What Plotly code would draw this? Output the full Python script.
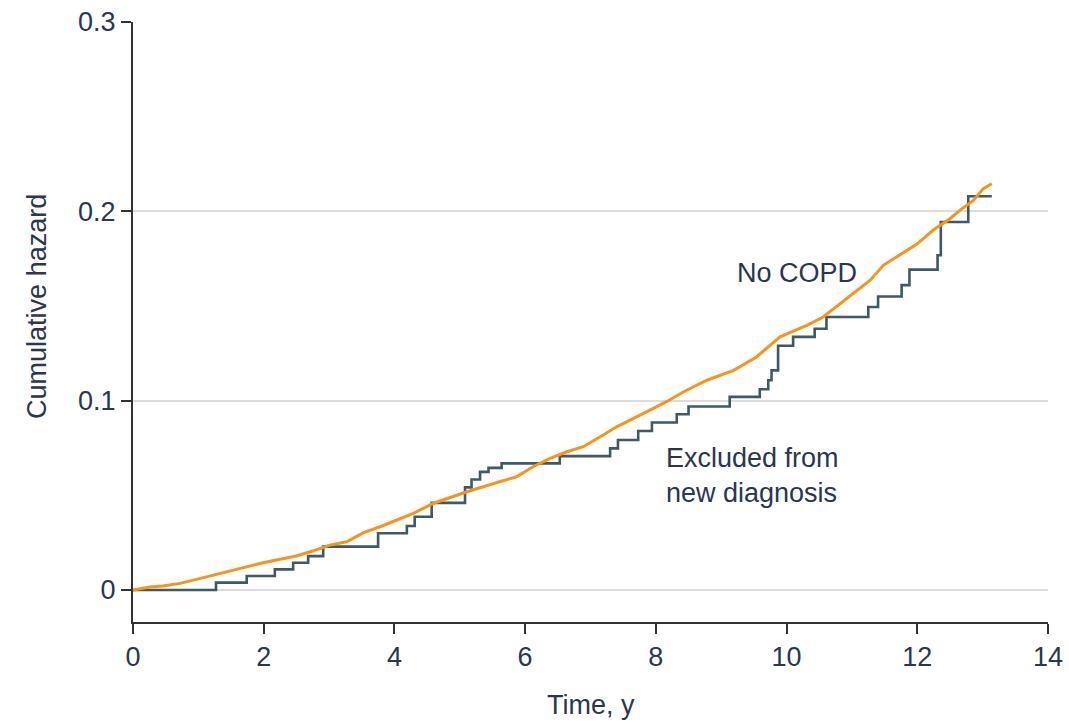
import plotly.graph_objects as go

# Step curve: "Excluded from new diagnosis"
excl_t = [0, 1.27, 1.74, 2.17, 2.45, 2.68, 2.91, 3.75, 4.19, 4.31, 4.57, 5.08, 5.18, 5.31,
          5.44, 5.64, 6.53, 7.30, 7.42, 7.73, 7.94, 8.32, 8.50, 9.13, 9.59, 9.72, 9.77,
          9.87, 10.10, 10.43, 10.61, 11.25, 11.40, 11.76, 11.88, 12.31, 12.36, 12.78, 13.14]
excl_h = [0, 0.0039, 0.0074, 0.0109, 0.0144, 0.0179, 0.0229, 0.030, 0.0338, 0.0387, 0.046,
          0.0542, 0.0584, 0.0624, 0.0645, 0.0669, 0.0707, 0.0748, 0.0792, 0.0840, 0.0885,
          0.0928, 0.0969, 0.102, 0.106, 0.1108, 0.116, 0.129, 0.1337, 0.138, 0.1442, 0.1495,
          0.155, 0.161, 0.1692, 0.1768, 0.1944, 0.208, 0.208]

# Orange curve: "No COPD"
nocopd_t = [0, 0.26, 0.46, 0.72, 0.97, 1.23, 1.48, 1.74, 1.99, 2.25, 2.50, 2.76, 3.01, 3.27,
            3.52, 3.78, 4.03, 4.29, 4.59, 5.11, 5.61, 5.87, 6.12, 6.38, 6.64, 6.89, 7.15,
            7.40, 7.66, 7.91, 8.17, 8.42, 8.78, 9.19, 9.54, 9.90, 10.31, 10.56, 10.82,
            11.07, 11.28, 11.48, 11.73, 11.99, 12.24, 12.50, 12.65, 12.86, 13.01, 13.14]
nocopd_h = [0, 0.0016, 0.0021, 0.0035, 0.0056, 0.0079, 0.0097, 0.012, 0.0144, 0.0162, 0.018,
            0.0207, 0.0237, 0.0255, 0.0302, 0.0334, 0.0369, 0.0405, 0.0457, 0.0519, 0.0572,
            0.0598, 0.0651, 0.0695, 0.073, 0.0757, 0.0809, 0.0862, 0.0906, 0.095, 0.0996,
            0.1046, 0.1108, 0.116, 0.1231, 0.1337, 0.1398, 0.1442, 0.1513, 0.1583, 0.1636,
            0.1715, 0.1768, 0.1826, 0.19, 0.1961, 0.2005, 0.2058, 0.212, 0.2146]

x_ticks = [0, 2, 4, 6, 8, 10, 12, 14]
y_ticks = [0, 0.1, 0.2, 0.3]
y_ticklabels = ["0", "0.1", "0.2", "0.3"]

FONT = "Liberation Sans, Arial, sans-serif"
TXT = "#2b3650"
ORANGE = "#F7941D"
DARK = "#3E5A66"

fig = go.Figure()
fig.add_trace(go.Scatter(x=excl_t, y=excl_h, mode="lines", line_shape="hv",
                         line=dict(color=DARK, width=2.6), hoverinfo="skip"))
fig.add_trace(go.Scatter(x=nocopd_t, y=nocopd_h, mode="lines",
                         line=dict(color=ORANGE, width=3), hoverinfo="skip"))

fig.update_layout(
    width=1069, height=725,
    margin=dict(l=133, r=21, t=22, b=103),
    paper_bgcolor="white", plot_bgcolor="white",
    showlegend=False,
    font=dict(family=FONT, size=27, color=TXT),
    xaxis=dict(range=[0, 14], tickvals=x_ticks, showgrid=False, zeroline=False,
               automargin=False,
               showline=True, linecolor="#333333", linewidth=2,
               ticks="outside", ticklen=10, tickwidth=2, tickcolor="#333333",
               tickfont=dict(family=FONT, size=27, color=TXT)),
    yaxis=dict(range=[-0.0169, 0.3], tickvals=y_ticks, ticktext=y_ticklabels,
               automargin=False,
               showgrid=True, gridcolor="#dcdcdc", gridwidth=1.5, zeroline=False,
               showline=True, linecolor="#333333", linewidth=2,
               ticks="outside", ticklen=10, tickwidth=2, tickcolor="#333333",
               tickfont=dict(family=FONT, size=27, color=TXT)),
    annotations=[
        dict(text="Cumulative hazard", xref="paper", yref="y", x=-0.105, y=0.15,
             textangle=-90, showarrow=False, xanchor="center", yanchor="middle",
             font=dict(family=FONT, size=27, color=TXT)),
        dict(text="Time, y", xref="x", yref="paper", x=7, y=-0.138,
             showarrow=False, xanchor="center", yanchor="middle",
             font=dict(family=FONT, size=27, color=TXT)),
        dict(text="No COPD", xref="x", yref="y", x=9.21, y=0.1673,
             showarrow=False, xanchor="left", yanchor="middle",
             font=dict(family=FONT, size=27, color=TXT)),
        dict(text="Excluded from<br>new diagnosis", xref="x", yref="y", x=8.12, y=0.0607,
             showarrow=False, xanchor="left", yanchor="middle", align="left",
             font=dict(family=FONT, size=27, color=TXT)),
    ],
)

fig.write_html("out.html")
